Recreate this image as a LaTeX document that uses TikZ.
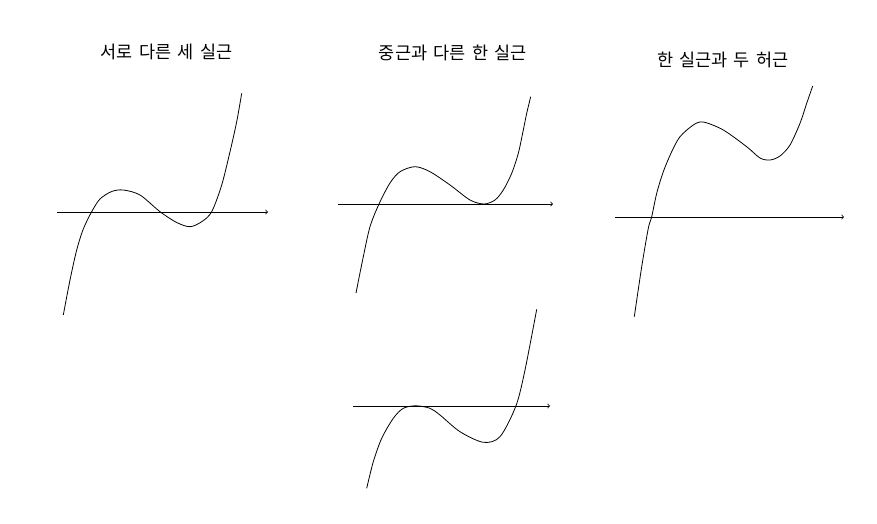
\documentclass[tikz,border=0pt]{standalone}
\usepackage{fontspec}
\newfontfamily\kr{Noto Sans CJK KR}[WordSpace=1.6]
\begin{document}
\begin{tikzpicture}[x=1pt,y=-1pt,
  curve/.style={line width=0.8pt, black},
  axis/.style={line width=0.8pt, black, ->},
  title/.style={font=\kr\fontsize{17.5}{19}\selectfont, inner sep=0pt}]
\useasboundingbox[fill=white] (0,0) rectangle (877,524);
% titles
\node[title] (t1) at (166.5,51.5) {서로 다른 세 실근};
\node[title] (t2) at (452.8,53.3) {중근과 다른 한 실근};
\node[title] (t3) at (722.8,60) {한 실근과 두 허근};
% axes
\coordinate (a1s) at (57,212); \coordinate (a1e) at (268,212);
\coordinate (a2s) at (338,204); \coordinate (a2e) at (553,204);
\coordinate (a3s) at (615,217); \coordinate (a3e) at (844,217);
\coordinate (a4s) at (353,406); \coordinate (a4e) at (550,406);
\draw[axis] (a1s) -- (a1e);
\draw[axis] (a2s) -- (a2e);
\draw[axis] (a3s) -- (a3e);
\draw[axis] (a4s) -- (a4e);
% curves
\draw[curve] plot[smooth] coordinates {(63.3,315) (70,280) (76.7,250) (83.3,229) (91.7,211.7) (100,199) (111.7,191.5) (123.3,190) (140,195) (160,211.7) (176.7,222.5) (190,226.7) (201.7,221.7) (211.7,211.7) (221.7,185) (230,151.7) (236.7,121.7) (241.7,93.3)};
\draw[curve] plot[smooth] coordinates {(356,293) (363.3,256.7) (370,226.7) (379,204) (390,183) (400,171.7) (415,166.7) (430,171.7) (450,185) (470,200) (484,204) (495,200) (503.3,190) (511.7,173.3) (518.3,153.3) (523.3,130) (526.7,113.3) (530.7,96.7)};
\draw[curve] plot[smooth] coordinates {(634.3,316.7) (641.7,266.7) (648.3,228.3) (651.7,216.7) (656.7,193.3) (663.3,171.7) (671.7,151.7) (680,136.7) (693.3,125) (703.3,122) (723.3,130) (746.7,146.7) (760,158) (770,160) (780,156) (790,145) (800,123.3) (806.7,103.3) (812.7,86)};
\draw[curve] plot[smooth] coordinates {(366.7,488.3) (373.3,461.7) (381.7,438.3) (393.3,418.3) (403.3,408.3) (416,405.8) (430,408.3) (440,415) (460,431.7) (483.3,442.3) (500,436.7) (516,405.7) (525,370) (536.7,309.3)};
\end{tikzpicture}
\end{document}
